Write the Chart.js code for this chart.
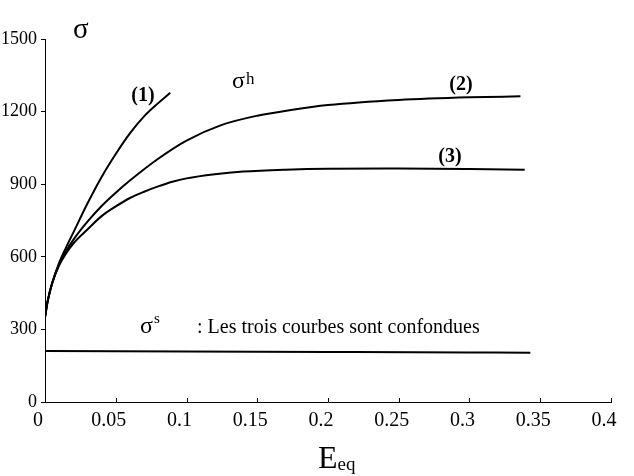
<!DOCTYPE html>
<html><head><meta charset="utf-8">
<script src="https://cdn.jsdelivr.net/npm/chart.js@4/dist/chart.umd.min.js"></script>
<style>html,body{margin:0;padding:0;background:#fff}canvas{display:block}</style>
</head><body>
<canvas id="c" width="634" height="476"></canvas>
<script>
// Tick labels
const xTickLabels = ['0','0.05','0.1','0.15','0.2','0.25','0.3','0.35','0.4'];
const yTickLabels = ['0','300','600','900','1200','1500'];

// Curve (1)
const eps1 = [0, 0.002, 0.005, 0.01, 0.015, 0.02, 0.03, 0.04, 0.05, 0.06, 0.07, 0.08, 0.0885];
const sig1 = [350, 420, 490, 575, 640, 700, 820, 930, 1025, 1110, 1180, 1235, 1278];
// Curve (2)
const eps2 = [0, 0.002, 0.005, 0.01, 0.015, 0.02, 0.03, 0.04, 0.05, 0.06, 0.08, 0.10, 0.125, 0.15, 0.175, 0.2, 0.25, 0.3, 0.336];
const sig2 = [350, 420, 490, 570, 625, 670, 745, 810, 865, 915, 1005, 1080, 1145, 1183, 1208, 1227, 1248, 1259, 1263];
// Curve (3)
const eps3 = [0, 0.002, 0.005, 0.01, 0.015, 0.02, 0.03, 0.04, 0.05, 0.06, 0.07, 0.08, 0.09, 0.10, 0.12, 0.14, 0.17, 0.2, 0.25, 0.3, 0.339];
const sig3 = [350, 420, 490, 565, 615, 655, 713, 768, 808, 843, 869, 891, 910, 924, 941, 952, 960, 964, 965, 963, 960];
// sigma^s (three curves coincide)
const epsS = [0, 0.1, 0.2, 0.3, 0.343];
const sigS = [211, 209, 207, 205, 204];

function pts(xs, ys) { return xs.map((v, i) => ({ x: v, y: ys[i] })); }
const serif = "'Liberation Serif', 'Times New Roman', serif";

const lineDs = (data) => ({
  data, showLine: true, borderColor: '#000', borderWidth: 2, pointRadius: 0,
  cubicInterpolationMode: 'monotone', fill: false
});

const textPlugin = {
  id: 'txt',
  afterDraw(chart) {
    const { ctx, scales: { x, y } } = chart;
    ctx.save();
    ctx.fillStyle = '#000';
    ctx.strokeStyle = '#000';
    ctx.lineWidth = 1;
    // inward x ticks
    x.ticks.forEach((tk, i) => {
      const px = Math.round(x.getPixelForTick(i)) + 0.5;
      ctx.beginPath(); ctx.moveTo(px, y.bottom); ctx.lineTo(px, y.bottom - 4); ctx.stroke();
    });
    ctx.textBaseline = 'alphabetic';
    function t(str, px, py, font, align) {
      ctx.font = font; ctx.textAlign = align || 'left'; ctx.fillText(str, px, py);
      return px + ctx.measureText(str).width;
    }
    // axis titles
    t('σ', 73, 38, '29px ' + serif);
    const ex = t('E', 318, 468, '32px ' + serif);
    t('eq', ex, 470, '19px ' + serif);
    // curve labels
    t('(1)', 143, 101, 'bold 20px ' + serif, 'center');
    t('(2)', 461, 90, 'bold 20px ' + serif, 'center');
    t('(3)', 450, 162, 'bold 20px ' + serif, 'center');
    const hx = t('σ', 232, 88, '24px ' + serif);
    t('h', hx + 1, 84, '17px ' + serif);
    const sx = t('σ', 140, 333, '24px ' + serif);
    t('s', sx + 1, 323, '15px ' + serif);
    t(': Les trois courbes sont confondues', 197, 333, '20px ' + serif);
    ctx.restore();
  }
};

new Chart(document.getElementById('c'), {
  type: 'scatter',
  data: {
    datasets: [
      lineDs(pts(eps1, sig1)),
      lineDs(pts(eps2, sig2)),
      lineDs(pts(eps3, sig3)),
      lineDs(pts(epsS, sigS))
    ]
  },
  options: {
    responsive: false,
    animation: false,
    layout: { padding: { top: 39, right: 23, left: 0, bottom: 0 } },
    plugins: { legend: { display: false }, tooltip: { enabled: false } },
    scales: {
      x: {
        type: 'linear', min: 0, max: 0.4,
        afterBuildTicks: (s) => { s.ticks = xTickLabels.map(v => ({ value: parseFloat(v) })); },
        afterFit: (s) => { s.height = 74; },
        grid: { display: true, drawOnChartArea: false, drawTicks: false },
        border: { display: true, color: '#000', width: 1 },
        ticks: {
          color: '#000', font: { family: serif, size: 20 }, padding: 7, labelOffset: -7,
          maxRotation: 0, autoSkip: false,
          callback: (v, i) => xTickLabels[i]
        }
      },
      y: {
        type: 'linear', min: 0, max: 1500,
        afterBuildTicks: (s) => { s.ticks = yTickLabels.map(v => ({ value: parseFloat(v) })); },
        afterFit: (s) => { s.width = 45; },
        grid: { display: true, drawOnChartArea: false, drawTicks: true, tickLength: 4, color: '#000' },
        border: { display: true, color: '#000', width: 1 },
        ticks: {
          color: '#000', font: { family: serif, size: 18 }, padding: 4,
          callback: (v, i) => yTickLabels[i]
        }
      }
    }
  },
  plugins: [textPlugin]
});
</script>
</body></html>
